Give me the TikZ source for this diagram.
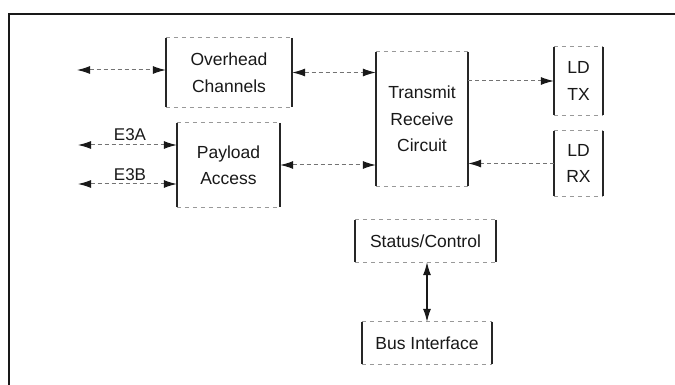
\documentclass[tikz,border=0pt]{standalone}
\usepackage{fontspec}
\setmainfont{Liberation Sans}
\usetikzlibrary{arrows.meta}
\newcommand\bxsides[1]{%
  \draw[vside] (#1.north west)--(#1.south west) (#1.north east)--(#1.south east);
  \draw[hside] (#1.north west)--(#1.north east) (#1.south west)--(#1.south east);}
\begin{document}
\begin{tikzpicture}[x=1pt,y=-1pt,
  blk/.style={draw=none,inner sep=0pt,align=center,text=black!90,
    font=\fontsize{17.5}{26.5}\selectfont},
  vside/.style={black!85,line width=1.7pt},
  hside/.style={black!40,line width=0.9pt,dash pattern=on 4pt off 4pt},
  tipk/.tip={Latex[length=13pt,width=8pt,black!90]},
  dline/.style={black!55,line width=1pt,dash pattern=on 4pt off 3pt},
  lbl/.style={text=black!90,font=\fontsize{17}{18}\selectfont}]
\useasboundingbox (0,0) rectangle (675,385);
\fill[white] (0,0) rectangle (675,385);
% frame
\draw[black!90,line width=2.4pt] (9,385) -- (9,14) -- (675,14);
% blocks
\node[blk,minimum width=126pt,minimum height=69pt] (oc) at (229,72.5) {Overhead\\Channels};
\node[blk,minimum width=103pt,minimum height=84pt] (pa) at (228.5,165) {Payload\\Access};
\node[blk,minimum width=92pt,minimum height=134pt] (tr) at (422,119) {Transmit\\Receive\\Circuit};
\node[blk,minimum width=49pt,minimum height=68pt] (ldtx) at (578.5,81) {LD\\TX};
\node[blk,minimum width=49pt,minimum height=65pt] (ldrx) at (578.5,163.5) {LD\\RX};
\node[blk,minimum width=140pt,minimum height=42pt] (sc) at (425.5,241) {Status/Control};
\node[blk,minimum width=130pt,minimum height=42pt] (bi) at (427,343) {Bus Interface};
\bxsides{oc}\bxsides{pa}\bxsides{tr}\bxsides{ldtx}\bxsides{ldrx}\bxsides{sc}\bxsides{bi}
% free ends
\coordinate (ohl) at (77,70);
\coordinate (e3a) at (78,145);
\coordinate (e3b) at (78,184);
% connectors
\draw[dline,tipk-tipk] (ohl) -- (ohl -| oc.west);
\draw[dline,tipk-tipk] (e3a) -- (e3a -| pa.west);
\draw[dline,tipk-tipk] (e3b) -- (e3b -| pa.west);
\node[lbl] (la) at (130,135) {E3A};
\node[lbl] (lb) at (130,175) {E3B};
\draw[dline,tipk-tipk] (oc.east) -- (oc.east -| tr.west);
\draw[dline,tipk-tipk] (pa.east) -- (pa.east -| tr.west);
\draw[dline,-tipk] (ldtx.west -| tr.east) -- (ldtx.west);
\draw[dline,-tipk] (ldrx.west) -- (ldrx.west -| tr.east);
\draw[black!90,line width=1.1pt,tipk-tipk] (bi.north |- sc.south) -- (bi.north);
\end{tikzpicture}
\end{document}
